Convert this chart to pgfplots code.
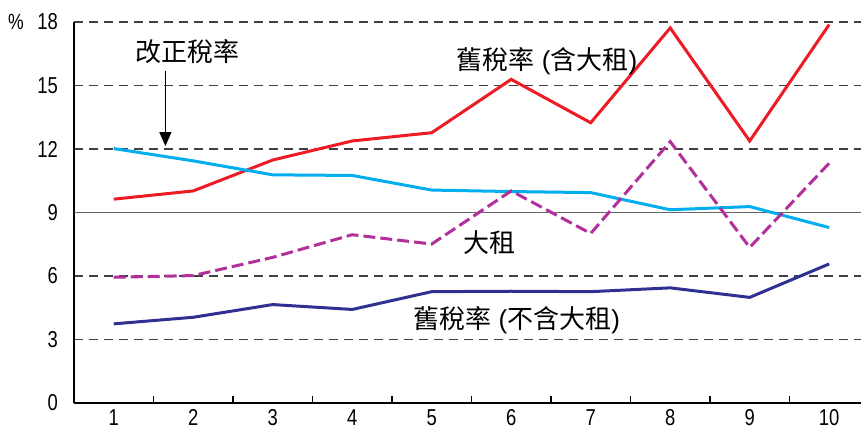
\documentclass[border=0pt]{standalone}
\usepackage{pgfplots}
\pgfplotsset{compat=1.18}
\usepackage{fontspec}
\usetikzlibrary{arrows.meta}
\setmainfont{Liberation Sans}
\newfontfamily\cjk{Noto Sans CJK TC}
\newfontfamily\narrow[FakeStretch=0.8]{Liberation Sans}

\definecolor{cRed}{HTML}{ED1C24}
\definecolor{cCyan}{HTML}{00AEEF}
\definecolor{cMag}{HTML}{B2309A}
\definecolor{cNavy}{HTML}{2E3192}
\definecolor{cGrid}{HTML}{404040}

% tax rates by period
\pgfplotstableread{
x  oldinc  reform  dazu   oldexc
1  9.63    12.02   5.94   3.74
2  10.02   11.44   6.02   4.05
3  11.48   10.78   6.88   4.65
4  12.38   10.75   7.95   4.42
5  12.77   10.06   7.51   5.26
6  15.29   9.99    10.02  5.28
7  13.24   9.94    8.01   5.26
8  17.72   9.13    12.35  5.44
9  12.38   9.28    7.35   4.99
10 17.88   8.29    11.33  6.57
}\rates

\begin{document}
\begin{tikzpicture}
\path[use as bounding box] (-37pt,-16pt) rectangle (393.5pt,201.5pt);
\begin{axis}[
  scale only axis,
  width=393.5pt, height=190.5pt,
  xmin=0.5, xmax=10.4,
  ymin=0, ymax=18,
  axis x line*=bottom, axis y line*=left,
  axis line style={-, line width=0.8pt, black},
  xtick={1,...,10},
  xticklabels={1,2,3,4,5,6,7,8,9,10},
  extra x ticks={1.5,2.5,...,9.5},
  extra x tick labels={},
  extra x tick style={major tick length=3.5pt, tick align=inside,
    tick style={line width=0.6pt, black}},
  ytick={0,3,6,12,15,18},
  extra y ticks={9},
  extra y tick style={major grid style={solid, line width=0.6pt, black!60}},
  major tick length=0pt,
  ymajorgrids,
  major grid style={dash pattern=on 4.5pt off 3pt, line width=0.7pt, cGrid},
  /pgf/number format/assume math mode=true,
  tick label style={font=\narrow\fontsize{11.5}{13}\selectfont},
  xticklabel style={yshift=-2.5pt, inner sep=0.5pt},
  yticklabel style={xshift=-4.5pt},
  clip=false,
]
\addplot[cRed, line width=1.5pt] table[x=x, y=oldinc] {\rates};
\addplot[cCyan, line width=1.5pt] table[x=x, y=reform] {\rates};
\addplot[cMag, line width=1.5pt, dash pattern=on 6pt off 2.5pt] table[x=x, y=dazu] {\rates};
\addplot[cNavy, line width=1.5pt] table[x=x, y=oldexc] {\rates};

\node[font=\narrow\fontsize{11}{13}\selectfont] at ([xshift=-29pt]rel axis cs:0,1) {\%};

\node[font=\fontsize{13}{15}\selectfont] at (axis cs:1.93,16.62) {\cjk 改正稅率};
\draw[-{Triangle[length=7pt,width=6pt]}, line width=0.7pt, black]
  (axis cs:1.65,15.67) -- (axis cs:1.65,12.14);
\node[font=\fontsize{13}{15}\selectfont] at (axis cs:6.45,16.15) {{\cjk 舊稅率} ({\cjk 含大租})};
\node[font=\fontsize{13}{15}\selectfont] at (axis cs:5.73,7.57) {\cjk 大租};
\node[font=\fontsize{13}{15}\selectfont] at (axis cs:6.07,3.90) {{\cjk 舊稅率} ({\cjk 不含大租})};
\end{axis}
\end{tikzpicture}
\end{document}
